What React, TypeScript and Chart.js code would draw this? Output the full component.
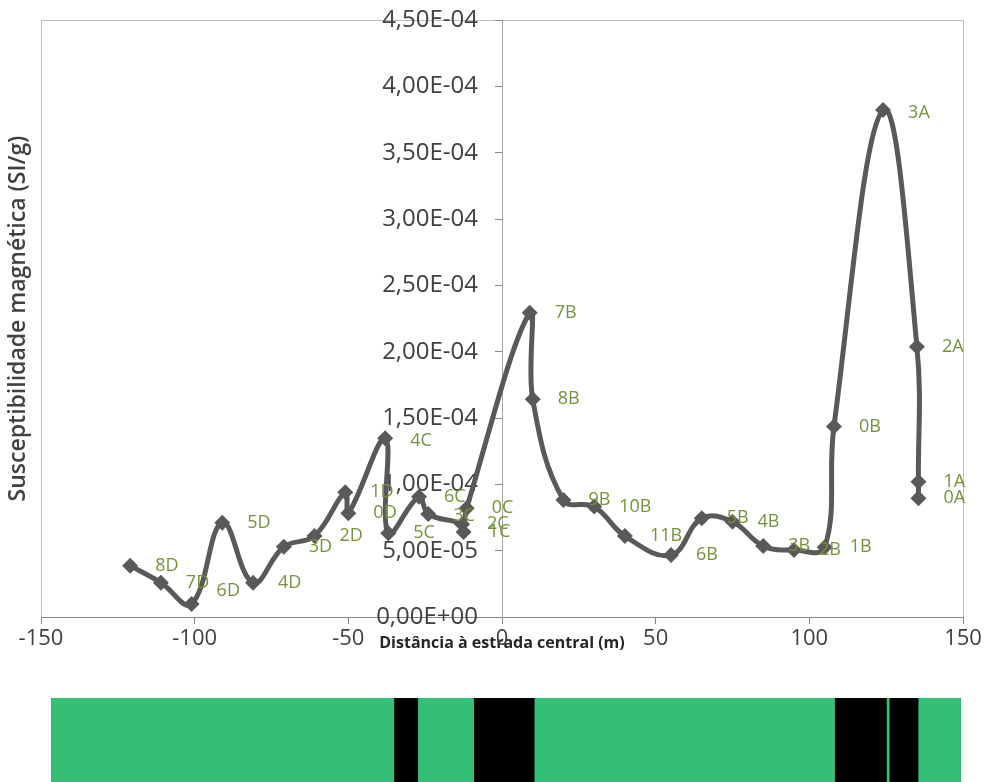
import React, { useEffect, useRef } from 'react';
import { Chart, registerables } from 'chart.js';

Chart.register(...registerables);

// ---- data ----
const sampleNames = ['8D', '7D', '6D', '5D', '4D', '3D', '2D', '1D', '0D', '4C', '5C', '6C', '3C', '2C', '1C', '0C', '7B', '8B', '9B', '10B', '11B', '6B', '5B', '4B', '3B', '2B', '1B', '0B', '3A', '2A', '1A', '0A'];
const distances = [-121, -111, -101, -91, -81, -71, -61, -51, -50, -38, -37, -27, -24, -13, -12.5, -11.5, 9, 10, 20, 30, 40, 55, 65, 75, 85, 95, 105, 108, 124, 135, 135.5, 135.5];
const susceptibility = [3.87e-5, 2.59e-5, 0.98e-5, 7.11e-5, 2.59e-5, 5.3e-5, 6.11e-5, 9.4e-5, 7.82e-5, 1.347e-4, 6.31e-5, 9.07e-5, 7.76e-5, 7.0e-5, 6.4e-5, 8.2e-5, 2.294e-4, 1.641e-4, 8.82e-5, 8.32e-5, 6.1e-5, 4.67e-5, 7.44e-5, 7.18e-5, 5.35e-5, 5.05e-5, 5.25e-5, 1.435e-4, 3.822e-4, 2.038e-4, 1.02e-4, 8.95e-5];
const labelNudgeY = [0, 0, -13, 0, 0, 0, 0, 0, 0, 3, 0, 0, 2, 0, 0, 0, 0, 0, 0, 0, 0, 0, 0, 0, 0, 0, 0, 0, 3, 0, 0, 0];

const xMin = -150;
const xMax = 150;
const xStep = 50;
const yMin = 0;
const yMax = 4.5e-4;
const yStep = 5e-5;
const yLabelAnchorX = -7.8; // distance at which the y tick labels end (left of the axis at 0)

// ground strip below the chart (distance in m)
const greenStarts = [-146.6, -27.2, 10.7, 125.3, 135.6];
const greenEnds = [-35.2, -9.2, 108.2, 126.0, 149.2];
const roadStarts = [-35.2, -9.2, 108.2, 126.0];
const roadEnds = [-27.2, 10.7, 125.3, 135.6];
const stripStart = -146.6;
const stripEnd = 149.2;

function sci(v: number): string {
  if (Math.abs(v) < 1e-12) return '0,00E+00';
  const [m, e] = v.toExponential(2).split('e');
  const ei = parseInt(e, 10);
  const es = (ei < 0 ? '-' : '+') + String(Math.abs(ei)).padStart(2, '0');
  return m.replace('.', ',') + 'E' + es;
}

const frame = {
  id: 'plotFrame',
  beforeDraw(chart: any) {
    const { ctx, chartArea } = chart;
    ctx.save();
    ctx.strokeStyle = '#BFBFBF';
    ctx.lineWidth = 1;
    ctx.strokeRect(Math.round(chartArea.left) + 0.5, Math.round(chartArea.top) + 0.5, Math.round(chartArea.right - chartArea.left), Math.round(chartArea.bottom - chartArea.top));
    ctx.restore();
  },
};

const sampleLabels = {
  id: 'sampleLabels',
  afterDatasetsDraw(chart: any) {
    const meta = chart.getDatasetMeta(0);
    const ctx = chart.ctx;
    ctx.save();
    ctx.font = '18px "Open Sans"';
    ctx.fillStyle = '#76923C';
    ctx.textAlign = 'left';
    ctx.textBaseline = 'middle';
    meta.data.forEach((pt: any, i: number) => {
      ctx.fillText(sampleNames[i], pt.x + 25, pt.y + labelNudgeY[i]);
    });
    ctx.restore();
  },
};

export default function App() {
  const mainRef = useRef<HTMLCanvasElement>(null);
  const stripRef = useRef<HTMLCanvasElement>(null);

  useEffect(() => {
    const main = new Chart(mainRef.current!, {
      type: 'line',
      data: {
        datasets: [
          {
            data: distances.map((d, i) => ({ x: d, y: susceptibility[i] })),
            yAxisID: 'y',
            xAxisID: 'x',
            borderColor: '#595959',
            backgroundColor: '#595959',
            borderWidth: 5,
            tension: 0.4,
            pointStyle: 'rectRot',
            pointRadius: 8,
            pointBackgroundColor: '#595959',
            pointBorderColor: '#595959',
            pointBorderWidth: 0,
          },
        ],
      },
      options: {
        animation: false,
        responsive: false,
        layout: { padding: { left: 0, right: 23, top: 20, bottom: 0 } },
        plugins: { legend: { display: false }, tooltip: { enabled: false } },
        scales: {
          x: {
            type: 'linear',
            position: 'bottom',
            min: xMin,
            max: xMax,
            ticks: { stepSize: xStep, color: '#404040', font: { family: 'Open Sans', size: 22 }, padding: 2 },
            grid: { drawOnChartArea: false, drawTicks: true, tickLength: 7, color: '#868686' },
            border: { color: '#868686', width: 1 },
            title: {
              display: true,
              text: 'Distância à estrada central (m)',
              color: '#262626',
              font: { family: 'Open Sans', size: 16, weight: 'bold' },
              padding: { top: 0, bottom: 37 },
            },
            afterFit: (s: any) => {
              s.height = 73;
            },
          },
          y: {
            type: 'linear',
            axis: 'y',
            position: { x: 0 },
            min: yMin,
            max: yMax,
            ticks: { stepSize: yStep, display: false },
            grid: { drawOnChartArea: false, tickLength: 7, color: '#868686' },
            border: { color: '#A6A6A6' },
          },
          yLabels: {
            type: 'linear',
            axis: 'y',
            position: { x: yLabelAnchorX },
            min: yMin,
            max: yMax,
            ticks: { stepSize: yStep, callback: (v: any) => sci(Number(v)), color: '#404040', font: { family: 'Open Sans', size: 24 } },
            grid: { display: false },
            border: { display: false },
          },
          yTitle: {
            type: 'linear',
            axis: 'y',
            position: 'left',
            min: yMin,
            max: yMax,
            ticks: { display: false },
            grid: { display: false },
            border: { display: false },
            title: {
              display: true,
              text: 'Susceptibilidade magnética (SI/g)',
              color: '#404040',
              font: { family: 'Open Sans', size: 23, weight: '600' },
              padding: { top: 5, bottom: 0 },
            },
            afterFit: (s: any) => {
              s.width = 41;
            },
          },
        },
      } as any,
      plugins: [frame, sampleLabels],
    });

    const green = '#33BF76';
    const datasets: any[] = [];
    greenStarts.forEach((s, i) => {
      datasets.push({ data: [[s, greenEnds[i]]], backgroundColor: green, borderWidth: 0, grouped: false, barPercentage: 1, categoryPercentage: 1 });
    });
    roadStarts.forEach((s, i) => {
      datasets.push({ data: [[s, roadEnds[i]]], backgroundColor: '#000000', borderWidth: 0, grouped: false, barPercentage: 1, categoryPercentage: 1 });
    });
    datasets.push({ data: [[stripStart, stripEnd]], backgroundColor: 'rgba(0,0,0,0)', borderColor: '#1a1a1a', borderWidth: 2, borderSkipped: false, grouped: false, barPercentage: 1, categoryPercentage: 1 });

    const strip = new Chart(stripRef.current!, {
      type: 'bar',
      data: { labels: [''], datasets },
      options: {
        animation: false,
        responsive: false,
        indexAxis: 'y',
        layout: { padding: { left: 41, right: 23, top: 8, bottom: 0 } },
        plugins: { legend: { display: false }, tooltip: { enabled: false } },
        scales: {
          x: { type: 'linear', min: xMin, max: xMax, display: false },
          y: { type: 'category', display: false },
        },
      } as any,
    });

    return () => {
      main.destroy();
      strip.destroy();
    };
  }, []);

  return (
    <div style={{ position: 'absolute', left: 0, top: 0, width: 986, height: 782, overflow: 'hidden', background: '#ffffff' }}>
      <canvas ref={mainRef} width={986} height={690} style={{ position: 'absolute', left: 0, top: 0, display: 'block' }} />
      <canvas ref={stripRef} width={986} height={120} style={{ position: 'absolute', left: 0, top: 690, display: 'block' }} />
    </div>
  );
}
